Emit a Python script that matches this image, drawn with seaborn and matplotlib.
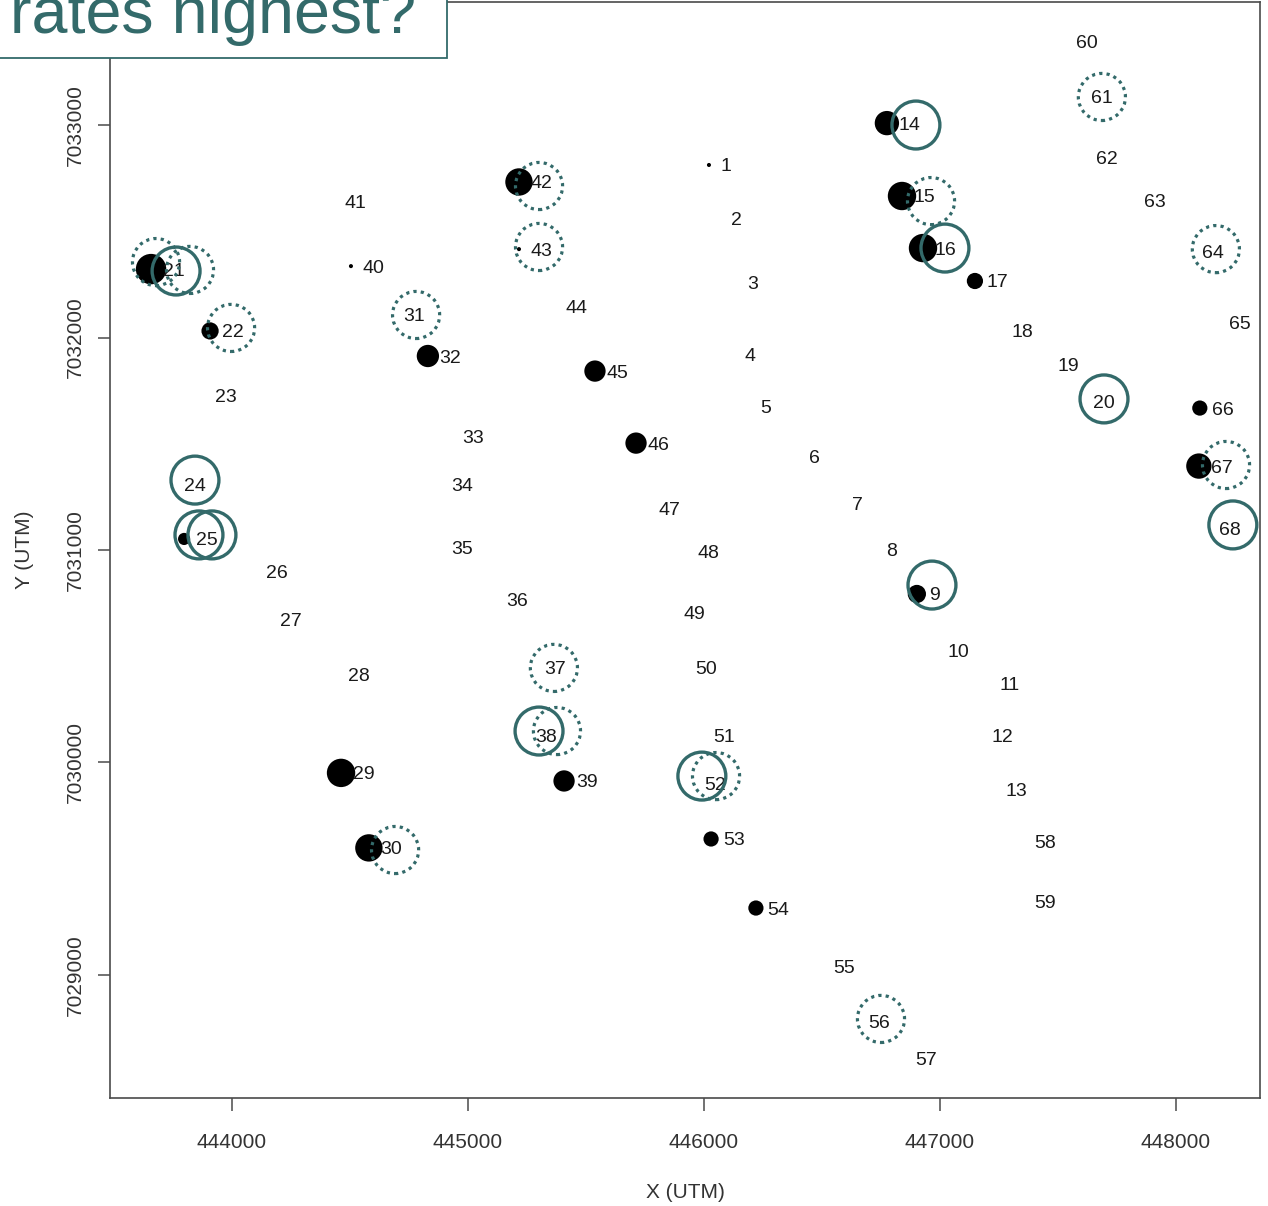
import matplotlib
matplotlib.use("Agg")
import matplotlib.pyplot as plt
import seaborn as sns
import pandas as pd
from matplotlib.patches import Rectangle

# ---------------- data ----------------
station_id = list(range(1, 69))
station_x = [446021, 446066, 446133, 446121, 446188, 446396, 446578, 446722, 446902, 446983,
             447203, 447169, 447229, 446775, 446839, 446928, 447148, 447254, 447449, 447597,
             443657, 443907, 443877, 443746, 443797, 444093, 444153, 444441, 444462, 444580,
             444674, 444830, 444924, 444877, 444877, 445110, 445271, 445233, 445407, 444504,
             444428, 445216, 445216, 445364, 445538, 445712, 445758, 445924, 445864, 445911,
             445987, 445953, 446030, 446220, 446496, 446648, 446847, 447351, 447351, 447525,
             447589, 447610, 447813, 448059, 448173, 448101, 448097, 448131]
station_y = [7032812, 7032562, 7032261, 7031922, 7031673, 7031442, 7031221, 7031000, 7030793, 7030529,
             7030374, 7030125, 7029871, 7033009, 7032666, 7032421, 7032266, 7032035, 7031875, 7031701,
             7032322, 7032031, 7031729, 7031306, 7031052, 7030901, 7030671, 7030412, 7029951, 7029598,
             7032106, 7031913, 7031532, 7031306, 7031014, 7030769, 7030445, 7030129, 7029913, 7032336,
             7032642, 7032732, 7032416, 7032144, 7031842, 7031503, 7031193, 7030995, 7030708, 7030449,
             7030129, 7029899, 7029640, 7029315, 7029042, 7028779, 7028609, 7029626, 7029348, 7033391,
             7033132, 7032849, 7032647, 7032407, 7032073, 7031668, 7031395, 7031099]
rate = [0.4, 0, 0, 0, 0, 0, 0, 0, 1.8, 0,
        0, 0, 0, 2.4, 2.8, 2.8, 1.6, 0, 0, 0,
        3.0, 1.7, 0, 0, 1.2, 0, 0, 0, 2.8, 2.7,
        0, 2.2, 0, 0, 0, 0, 0, 0, 2.1, 0.4,
        0, 2.7, 0.4, 0, 2.1, 2.1, 0, 0, 0, 0,
        0, 0, 1.5, 1.5, 0, 0, 0, 0, 0, 0,
        0, 0, 0, 0, 0, 1.5, 2.5, 0]

solid_ring_x = [446898, 447021, 447695, 443763, 443843, 443860, 443915, 446966, 445301, 445991, 448241]
solid_ring_y = [7033000, 7032421, 7031711, 7032313, 7031329, 7031071, 7031071, 7030835, 7030148, 7029936, 7031118]
dotted_ring_x = [447686, 446962, 443678, 443822, 443996, 444780, 445301, 445301, 445364, 445377,
                 446051, 444691, 446750, 448169, 448212]
dotted_ring_y = [7033132, 7032642, 7032355, 7032318, 7032045, 7032106, 7032713, 7032426, 7030445, 7030148,
                 7029936, 7029588, 7028793, 7032416, 7031400]

x_ticks = [444000, 445000, 446000, 447000, 448000]
y_ticks = [7029000, 7030000, 7031000, 7032000, 7033000]
x_label = "X (UTM)"
y_label = "Y (UTM)"
title_text = "rates highest?"

# ---------------- style ----------------
sns.set_style("ticks")
plt.rcParams["font.family"] = ["Liberation Sans", "DejaVu Sans"]
TEAL = "#336a6a"
INK = "#1a1a1a"
AX = "#4a4a4a"

df = pd.DataFrame({"id": station_id, "x": station_x, "y": station_y, "rate": rate})
dots = df[df["rate"] > 0].reset_index(drop=True)
solid = pd.DataFrame({"x": solid_ring_x, "y": solid_ring_y})
dotted = pd.DataFrame({"x": dotted_ring_x, "y": dotted_ring_y})

fig = plt.figure(figsize=(12.68, 12.06), dpi=100)
ax = fig.add_axes([110 / 1268, 1 - 1098 / 1206, 1150 / 1268, 1096 / 1206])

sns.scatterplot(data=dots, x="x", y="y", s=(dots["rate"] * 7.3) ** 2, color="black",
                edgecolor="none", linewidth=0, legend=False, ax=ax, zorder=2)

for _, r in df.iterrows():
    ax.annotate(str(int(r["id"])), (r["x"], r["y"]), xytext=(8.5, 0), textcoords="offset points",
                ha="left", va="center_baseline", fontsize=14, color=INK, zorder=3)

sns.scatterplot(data=solid, x="x", y="y", s=1190, marker="o", color=TEAL, facecolor="none",
                edgecolor=TEAL, linewidth=2.4, legend=False, ax=ax, zorder=4)
sns.scatterplot(data=dotted, x="x", y="y", s=1150, marker="o", color=TEAL, facecolor="none",
                edgecolor=TEAL, linewidth=2.3, linestyle=(0, (1, 1.3)), legend=False, ax=ax, zorder=4)

ax.set_xlim(443483, 448356)
ax.set_ylim(7028421, 7033579)
ax.set_xticks(x_ticks)
ax.set_xticklabels([str(t) for t in x_ticks])
ax.set_yticks(y_ticks)
ax.set_yticklabels([str(t) for t in y_ticks], rotation=90, va="center")
ax.tick_params(axis="both", direction="out", length=9, width=1.1, color=AX, labelcolor="#333333",
               labelsize=15)
ax.tick_params(axis="x", pad=16)
ax.tick_params(axis="y", pad=9)
for s in ax.spines.values():
    s.set_color(AX)
    s.set_linewidth(1.2)
    s.set_visible(True)

ax.set_xlabel(x_label, fontsize=15, color="#333333")
ax.set_ylabel(y_label, fontsize=15, color="#333333")
ax.xaxis.set_label_coords(0.5, (1098 - 1192) / 1096)
ax.xaxis.label.set_va("center")
ax.yaxis.set_label_coords((25 - 110) / 1150, 0.5)
ax.yaxis.label.set_va("center")

# title box partly cut off at the top-left (as in the reference)
fig.add_artist(Rectangle((-10 / 1268, 1 - 58 / 1206), 457 / 1268, 80 / 1206,
                         transform=fig.transFigure, facecolor="white", edgecolor=TEAL,
                         linewidth=1.3, zorder=5))
fig.text(10 / 1268, 1 - 33 / 1206, title_text, ha="left", va="baseline", fontsize=46.5,
         color=TEAL, zorder=6)

fig.savefig("out.png", dpi=100)
